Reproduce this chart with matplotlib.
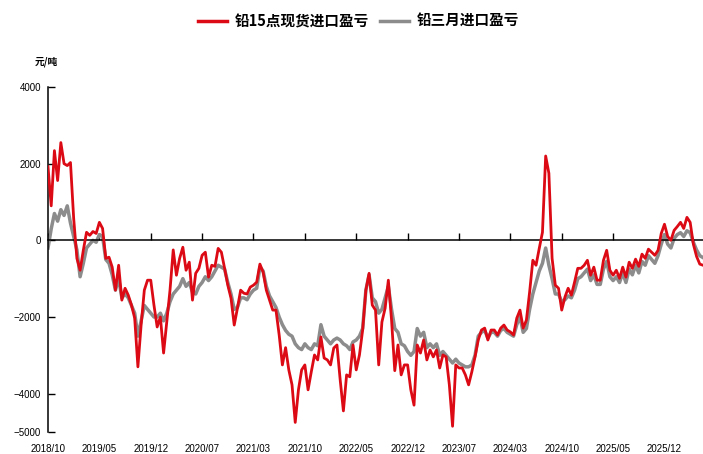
import matplotlib
matplotlib.use("Agg")
import matplotlib.pyplot as plt
from matplotlib.lines import Line2D
import numpy as np

plt.rcParams['font.family'] = ['Liberation Sans', 'Noto Sans CJK SC', 'DejaVu Sans']
plt.rcParams['axes.unicode_minus'] = True

series_red_name = "铅15点现货进口盈亏"
series_gray_name = "铅三月进口盈亏"
unit_label = "元/吨"

tick_labels = ["2018/10", "2019/05", "2019/12", "2020/07", "2021/03", "2021/10",
               "2022/05", "2022/12", "2023/07", "2024/03", "2024/10", "2025/05", "2025/12"]
samples_per_label = 16

red_values = [
    1920, 900, 2340, 1560, 2550, 2000, 1950, 2030, 570, -470,
    -780, -260, 210, 130, 230, 180, 470, 310, -470, -440,
    -700, -1300, -650, -1560, -1250, -1430, -1690, -2030, -3300, -2210,
    -1300, -1040, -1040, -1690, -2260, -2000, -2940, -2130, -1300, -250,
    -910, -470, -180, -780, -570, -1560, -860, -730, -390, -310,
    -960, -650, -680, -210, -310, -730, -1170, -1510, -2210, -1770,
    -1300, -1380, -1400, -1220, -1170, -1090, -620, -830, -1300, -1560,
    -1820, -1820, -2470, -3250, -2800, -3380, -3770, -4750, -3900, -3380,
    -3250, -3900, -3430, -2990, -3120, -2520, -3070, -3120, -3250, -2810,
    -2730, -3640, -4450, -3510, -3560, -2730, -3380, -2990, -2340, -1300,
    -860, -1690, -1820, -3250, -2130, -1770, -1040, -2080, -3400, -2730,
    -3510, -3250, -3250, -3900, -4300, -2730, -2940, -2600, -3120, -2860,
    -3040, -2860, -3330, -2990, -3040, -3770, -4850, -3250, -3330, -3330,
    -3510, -3770, -3430, -3040, -2600, -2340, -2290, -2600, -2340, -2340,
    -2470, -2290, -2210, -2340, -2390, -2470, -2030, -1820, -2290, -2080,
    -1350, -520, -650, -210, 210, 2200, 1750, -470, -1170, -1250,
    -1820, -1480, -1250, -1430, -1090, -730, -730, -650, -520, -910,
    -700, -1040, -1040, -520, -260, -780, -910, -780, -990, -700,
    -960, -570, -730, -490, -680, -360, -470, -230, -310, -390,
    -260, 180, 420, 100, 0, 260, 360, 470, 310, 600,
    470, -100, -420, -620, -650,
]

gray_values = [
    -200, 300, 700, 500, 800, 650, 900, 450, 100, -250,
    -950, -600, -200, -100, 0, -50, 150, 100, -500, -600,
    -900, -1300, -1000, -1500, -1400, -1500, -1700, -1900, -2500, -2100,
    -1700, -1800, -1900, -2000, -2000, -1900, -2100, -1900, -1600, -1400,
    -1300, -1200, -1000, -1200, -1100, -1350, -1400, -1200, -1100, -950,
    -1050, -950, -800, -650, -700, -750, -1100, -1400, -1800, -1750,
    -1500, -1500, -1550, -1400, -1300, -1250, -700, -800, -1200, -1450,
    -1600, -1750, -2000, -2200, -2350, -2450, -2500, -2700, -2800, -2850,
    -2700, -2800, -2850, -2700, -2750, -2200, -2500, -2600, -2700, -2600,
    -2550, -2600, -2700, -2750, -2850, -2650, -2600, -2500, -2300, -1300,
    -900, -1500, -1600, -1900, -1800, -1500, -1200, -1800, -2300, -2400,
    -2700, -2750, -2900, -3000, -2900, -2300, -2500, -2400, -2800, -2700,
    -2800, -2700, -3000, -2900, -3000, -3100, -3200, -3100, -3200, -3250,
    -3300, -3300, -3250, -3000, -2500, -2400, -2350, -2550, -2400, -2400,
    -2500, -2350, -2300, -2400, -2450, -2500, -2200, -2000, -2400, -2300,
    -1800, -1400, -1100, -800, -600, -200, -650, -1000, -1400, -1400,
    -1600, -1550, -1450, -1500, -1300, -1000, -950, -850, -750, -1050,
    -900, -1150, -1150, -750, -550, -950, -1050, -950, -1100, -850,
    -1100, -750, -900, -650, -850, -550, -650, -400, -500, -600,
    -400, -100, 150, -100, -200, 50, 150, 200, 100, 250,
    200, -50, -250, -400, -450,
]

yticks = [4000, 2000, 0, -2000, -4000, -5000]

red_color = "#DC0A14"
gray_color = "#8C8C8C"

fig = plt.figure(figsize=(7.03, 4.54), dpi=100)
ax = fig.add_axes([48 / 703, (454 - 432) / 454, (703 - 48) / 703, (432 - 87) / 454])

x = np.arange(len(red_values))
xg = np.arange(len(gray_values))
ax.plot(xg, gray_values, color=gray_color, lw=2.5, solid_joinstyle='round', zorder=2)
ax.plot(x, red_values, color=red_color, lw=2.0, solid_joinstyle='round', zorder=3)

ax.set_xlim(0, len(red_values) - 1)
ax.set_ylim(-5000, 4000)

for s in ['top', 'right']:
    ax.spines[s].set_visible(False)
ax.spines['bottom'].set_position(('data', 0))
ax.spines['bottom'].set_linewidth(1.1)
ax.spines['left'].set_linewidth(1.1)

tick_pos = [i * samples_per_label for i in range(len(tick_labels))]
ax.set_xticks(tick_pos)
ax.tick_params(axis='x', direction='in', length=5, width=1.0, labelbottom=False)

ax.set_yticks(yticks)
ax.set_yticklabels([f"{v}".replace('-', '\u2212') for v in yticks])
ax.tick_params(axis='y', direction='in', length=5, width=1.0, labelsize=7, pad=5)

secax = ax.secondary_xaxis('bottom')
secax.set_xticks(tick_pos)
secax.set_xticklabels(tick_labels)
secax.tick_params(length=0, pad=9, labelsize=7)
secax.spines['bottom'].set_visible(False)

fig.text(35 / 703, 1 - 62 / 454, unit_label, fontsize=7, fontweight='bold',
         family=['Noto Sans CJK SC', 'DejaVu Sans'], va='center', ha='left')

handles = [Line2D([], [], color=red_color, lw=2.5),
           Line2D([], [], color=gray_color, lw=2.5)]
fig.legend(handles, [series_red_name, series_gray_name], loc='upper center',
           bbox_to_anchor=(0.51, 1.0), ncol=2, frameon=False, handlelength=2.0,
           handletextpad=0.5, columnspacing=0.8,
           prop={'family': ['Noto Sans CJK SC', 'DejaVu Sans'], 'weight': 'bold', 'size': 10.5})

fig.savefig("out.png", dpi=100)
